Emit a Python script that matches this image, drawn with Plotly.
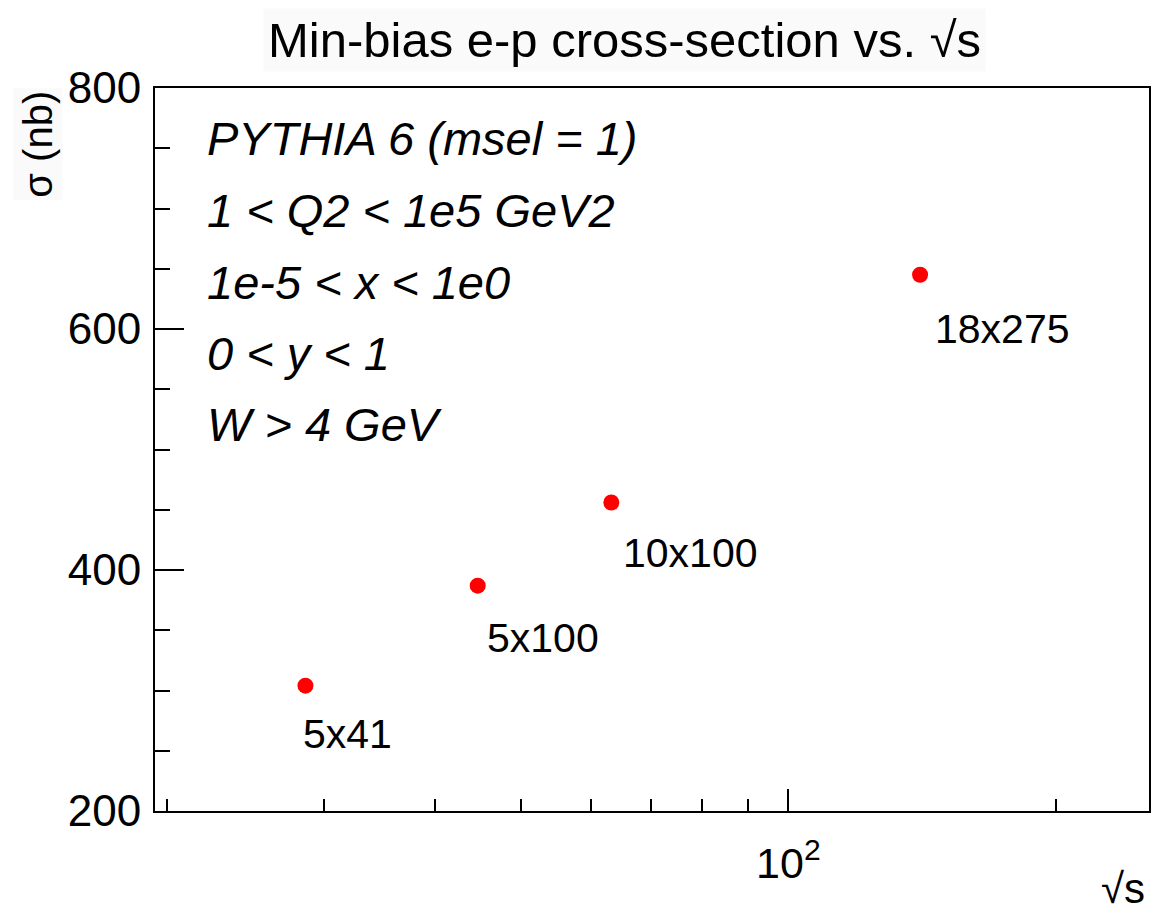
import numpy as np
import plotly.graph_objects as go

# ---- data ----
sqrt_s = [28.6, 44.7, 63.2, 140.7]
sigma_nb = [304, 387, 456, 645]
beam_labels = ["5x41", "5x100", "10x100", "18x275"]

x_major_ticks = [100]
x_major_text = ["10<sup>2</sup>"]
x_minor_ticks = [20, 30, 40, 50, 60, 70, 80, 90, 200]

info_lines = [
    "PYTHIA 6 (msel = 1)",
    "1 &lt; Q2 &lt; 1e5 GeV2",
    "1e-5 &lt; x &lt; 1e0",
    "0 &lt; y &lt; 1",
    "W &gt; 4 GeV",
]

# ---- styling / layout constants ----
W, H = 1154, 914
ML, MR, MT, MB = 155, 3, 88, 103
PW, PH = W - ML - MR, H - MT - MB
FONT = "Liberation Sans, Arial, Helvetica, sans-serif"

label_offsets = [(-4, -48), (7, -52), (10, -50), (13, -54)]

def px_to_paper_x(px):
    return (px - ML) / PW

def py_to_paper_y(py):
    return (H - MB - py) / PH

fig = go.Figure()
fig.add_trace(go.Scatter(
    x=sqrt_s, y=sigma_nb, mode="markers",
    marker=dict(color="#ff0000", size=16, line=dict(width=0)),
    showlegend=False, hoverinfo="x+y",
))

annotations = []
for xv, yv, lab, (dx, dy) in zip(sqrt_s, sigma_nb, beam_labels, label_offsets):
    annotations.append(dict(
        x=np.log10(xv), y=yv, xref="x", yref="y", text=lab, showarrow=False,
        xanchor="left", yanchor="middle", xshift=dx, yshift=dy,
        font=dict(family=FONT, size=41, color="black"),
    ))

line_y_px = [139, 211, 282, 353, 424]
for txt, ly in zip(info_lines, line_y_px):
    annotations.append(dict(
        x=px_to_paper_x(205), y=py_to_paper_y(ly), xref="paper", yref="paper",
        text="<i>" + txt + "</i>", showarrow=False,
        xanchor="left", yanchor="middle",
        font=dict(family=FONT, size=47, color="black"),
    ))

# title
annotations.append(dict(
    x=px_to_paper_x(625), y=py_to_paper_y(40), xref="paper", yref="paper",
    text="Min-bias e-p cross-section vs. √s", showarrow=False,
    xanchor="center", yanchor="middle", bgcolor="#fafafa", borderpad=4,
    font=dict(family=FONT, size=49, color="black"),
))
# y-axis title
annotations.append(dict(
    x=px_to_paper_x(37), y=1.0, xref="paper", yref="paper",
    text="σ (nb)", showarrow=False, textangle=-90,
    xanchor="center", yanchor="top", bgcolor="#fafafa", borderpad=2,
    font=dict(family=FONT, size=40, color="black"),
))
# x-axis title
annotations.append(dict(
    x=px_to_paper_x(1149), y=py_to_paper_y(888), xref="paper", yref="paper",
    text="√s", showarrow=False,
    xanchor="right", yanchor="middle",
    font=dict(family=FONT, size=42, color="black"),
))

fig.update_layout(
    width=W, height=H,
    margin=dict(l=ML, r=MR, t=MT, b=MB, pad=0),
    paper_bgcolor="white", plot_bgcolor="white",
    font=dict(family=FONT, color="black"),
    annotations=annotations,
    xaxis=dict(
        type="log", range=[1.287, 2.406],
        showline=True, linecolor="black", linewidth=2, mirror=True,
        showgrid=False, zeroline=False,
        tickmode="array", tickvals=x_major_ticks, ticktext=x_major_text,
        ticks="inside", ticklen=22, tickwidth=2, tickcolor="black",
        tickfont=dict(family=FONT, size=43, color="black"),
        ticklabelstandoff=13,
        minor=dict(tickmode="array", tickvals=x_minor_ticks, ticks="inside",
                   ticklen=12, tickwidth=2, tickcolor="black", showgrid=False),
    ),
    yaxis=dict(
        range=[200, 800],
        showline=True, linecolor="black", linewidth=2, mirror=True,
        showgrid=False, zeroline=False,
        tickmode="linear", tick0=200, dtick=200,
        ticks="inside", ticklen=29, tickwidth=2, tickcolor="black",
        tickfont=dict(family=FONT, size=44, color="black"),
        ticklabelstandoff=3,
        minor=dict(dtick=50, ticks="inside", ticklen=15, tickwidth=2,
                   tickcolor="black", showgrid=False),
    ),
)

fig.write_html("out.html", config={"displayModeBar": False},
               post_script="document.body.style.margin='0';")
